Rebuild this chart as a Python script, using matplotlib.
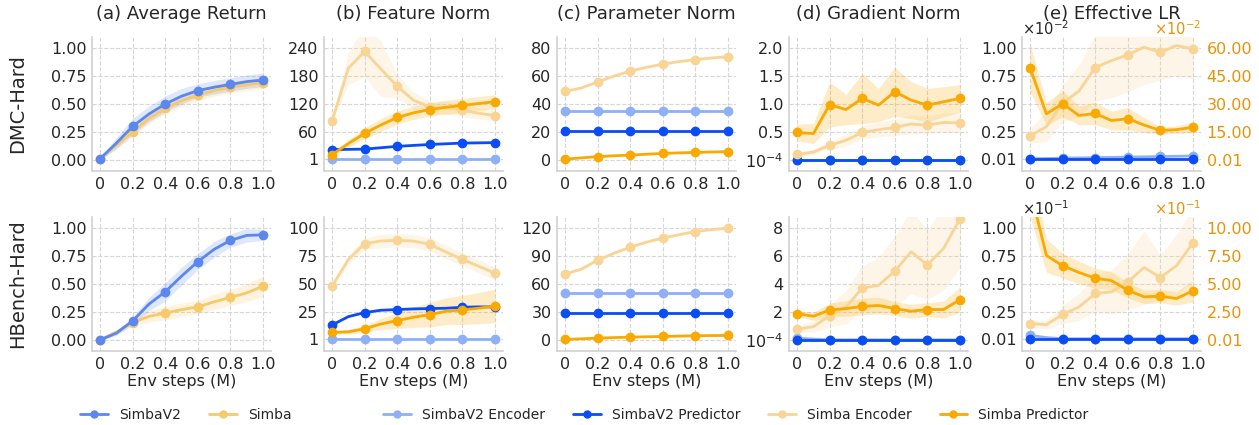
import matplotlib
matplotlib.use("Agg")
import matplotlib.pyplot as plt
import numpy as np
import seaborn as sns
from matplotlib.lines import Line2D

# x positions (env steps, millions)
steps = [0.0, 0.1, 0.2, 0.3, 0.4, 0.5, 0.6, 0.7, 0.8, 0.9, 1.0]

# ---- (a) average return ----
dmc_ret_v2 = [0.01, 0.15, 0.30, 0.41, 0.50, 0.57, 0.62, 0.65, 0.675, 0.70, 0.715]
dmc_ret_v2_sd = [0.01, 0.05, 0.07, 0.07, 0.07, 0.07, 0.06, 0.06, 0.06, 0.06, 0.06]
dmc_ret_simba = [0.01, 0.13, 0.25, 0.37, 0.46, 0.53, 0.58, 0.62, 0.65, 0.67, 0.69]
dmc_ret_simba_sd = [0.01, 0.03, 0.04, 0.05, 0.05, 0.05, 0.05, 0.05, 0.05, 0.05, 0.05]
hb_ret_v2 = [0.0, 0.06, 0.17, 0.32, 0.43, 0.57, 0.70, 0.81, 0.89, 0.935, 0.94]
hb_ret_v2_sd = [0.01, 0.02, 0.03, 0.06, 0.08, 0.08, 0.07, 0.07, 0.06, 0.06, 0.05]
hb_ret_simba = [0.0, 0.07, 0.155, 0.21, 0.24, 0.27, 0.295, 0.34, 0.38, 0.42, 0.48]
hb_ret_simba_sd = [0.01, 0.02, 0.03, 0.05, 0.06, 0.06, 0.06, 0.07, 0.07, 0.08, 0.09]

# ---- (b) feature norm ----
dmc_feat_v2_enc = [1, 1, 1, 1, 1, 1, 1, 1, 1, 1, 1]
dmc_feat_v2_pred = [22, 22.5, 23, 26, 29, 31, 33, 34.5, 36, 36.5, 37]
dmc_feat_s_enc = [84, 197, 233, 195, 158, 128, 114, 112, 107, 100, 95]
dmc_feat_s_enc_sd = [3, 35, 55, 60, 25, 18, 12, 14, 14, 12, 12]
dmc_feat_s_pred = [11, 35, 57, 75, 91, 101, 108, 113, 117, 121, 125]
dmc_feat_s_pred_sd = [4, 8, 12, 14, 14, 14, 14, 15, 15, 15, 15]
hb_feat_v2_enc = [1, 1, 1, 1, 1, 1, 1, 1, 1, 1, 1]
hb_feat_v2_pred = [13.3, 20.8, 24.4, 26.5, 27.1, 27.7, 28.0, 28.3, 29.2, 29.5, 29.5]
hb_feat_s_enc = [48.2, 72, 86.1, 88.5, 89.2, 88.5, 85.5, 78.6, 72, 66, 59.6]
hb_feat_s_enc_sd = [2, 4, 5, 6, 6, 6, 6, 6, 6, 6, 6]
hb_feat_s_pred = [6.6, 7.2, 9.9, 14.2, 17.2, 20.2, 22.6, 25.6, 26.8, 28.3, 30.4]
hb_feat_s_pred_sd = [1, 2, 3, 5, 7, 9, 11, 12, 13, 14, 15]

# ---- (c) parameter norm ----
dmc_par_v2_enc = [35, 35, 35, 35, 35, 35, 35, 35, 35, 35, 35]
dmc_par_v2_pred = [21, 21, 21, 21, 21, 21, 21, 21, 21, 21, 21]
dmc_par_s_enc = [49.0, 51.5, 55.8, 60, 63.6, 66.3, 68.6, 70.4, 71.8, 73, 73.9]
dmc_par_s_enc_sd = [0.5, 0.6, 0.7, 0.8, 0.8, 0.8, 0.8, 0.8, 0.8, 0.8, 0.8]
dmc_par_s_pred = [0.5, 1.4, 2.3, 2.9, 3.4, 4.0, 4.6, 5.0, 5.3, 5.6, 5.9]
hb_par_v2_enc = [50, 50, 50, 50, 50, 50, 50, 50, 50, 50, 50]
hb_par_v2_pred = [29, 29, 29, 29, 29, 29, 29, 29, 29, 29, 29]
hb_par_s_enc = [70.8, 76, 85.7, 93, 99.6, 105, 109.4, 113, 116.4, 118.5, 120]
hb_par_s_enc_sd = [0.8, 1, 1, 1.2, 1.2, 1.2, 1.2, 1.2, 1.2, 1.2, 1.2]
hb_par_s_pred = [0.4, 1.1, 1.8, 2.4, 2.9, 3.3, 3.6, 4.0, 4.4, 4.6, 4.7]

# ---- (d) gradient norm ----
dmc_grad_v2_enc = [0.0001, 0.0001, 0.0001, 0.0001, 0.0001, 0.0001, 0.0001, 0.0001, 0.0001, 0.0001, 0.0001]
dmc_grad_v2_pred = [0.0001, 0.0001, 0.0001, 0.0001, 0.0001, 0.0001, 0.0001, 0.0001, 0.0001, 0.0001, 0.0001]
dmc_grad_s_enc = [0.096, 0.14, 0.26, 0.35, 0.49, 0.54, 0.58, 0.64, 0.62, 0.67, 0.66]
dmc_grad_s_enc_sd = [0.03, 0.05, 0.08, 0.1, 0.12, 0.13, 0.15, 0.17, 0.15, 0.17, 0.18]
dmc_grad_s_pred = [0.49, 0.47, 0.99, 0.90, 1.10, 0.98, 1.22, 1.07, 0.98, 1.04, 1.10]
dmc_grad_s_pred_sd = [0.15, 0.18, 0.40, 0.27, 0.45, 0.30, 0.44, 0.33, 0.30, 0.27, 0.25]
hb_grad_v2_enc = [0.12, 0.05, 0.0001, 0.0001, 0.0001, 0.0001, 0.0001, 0.0001, 0.0001, 0.0001, 0.0001]
hb_grad_v2_pred = [0.0001, 0.0001, 0.0001, 0.0001, 0.0001, 0.0001, 0.0001, 0.0001, 0.0001, 0.0001, 0.0001]
hb_grad_s_enc = [0.77, 0.94, 1.73, 2.34, 3.71, 3.90, 4.92, 6.31, 5.37, 6.55, 8.65]
hb_grad_s_enc_sd = [0.2, 0.4, 0.8, 1.2, 1.6, 2.0, 2.5, 3.0, 2.5, 3.0, 3.5]
hb_grad_s_pred = [1.88, 1.69, 2.14, 2.24, 2.39, 2.46, 2.24, 2.05, 2.17, 2.17, 2.87]
hb_grad_s_pred_sd = [0.2, 0.3, 0.5, 0.55, 0.6, 0.6, 0.5, 0.5, 0.5, 0.6, 0.9]

# ---- (e) effective LR (left: SimbaV2, right: Simba) ----
dmc_lr_v2_enc = [0.01, 0.012, 0.015, 0.017, 0.02, 0.022, 0.025, 0.027, 0.03, 0.032, 0.035]
dmc_lr_v2_pred = [0.01, 0.01, 0.01, 0.01, 0.01, 0.01, 0.01, 0.01, 0.01, 0.01, 0.01]
dmc_lr_s_enc = [12.9, 17.8, 30.5, 36.9, 49.6, 53.3, 56.4, 60.5, 57.8, 61.4, 59.6]
dmc_lr_s_enc_sd = [4, 8, 10, 14, 18, 20, 20, 20, 15, 16, 16]
dmc_lr_s_pred = [49.3, 24.7, 30.2, 23.8, 24.9, 21.1, 22.1, 18.7, 15.8, 16.2, 17.5]
dmc_lr_s_pred_sd = [13, 6, 7, 5, 6, 5, 6, 4, 2, 2, 3]
hb_lr_v2_enc = [0.04, 0.02, 0.01, 0.01, 0.01, 0.01, 0.01, 0.01, 0.01, 0.01, 0.01]
hb_lr_v2_pred = [0.01, 0.01, 0.01, 0.01, 0.01, 0.01, 0.01, 0.01, 0.01, 0.01, 0.01]
hb_lr_s_enc = [1.45, 1.36, 2.27, 2.94, 4.15, 4.30, 5.18, 6.48, 5.58, 6.64, 8.67]
hb_lr_s_enc_sd = [0.3, 0.4, 0.8, 1.2, 1.6, 2.0, 2.5, 3.3, 2.0, 2.8, 3.2]
hb_lr_s_pred = [13.5, 7.55, 6.64, 6.03, 5.52, 5.30, 4.45, 3.85, 3.91, 3.70, 4.39]
hb_lr_s_pred_sd = [2.5, 1.5, 1.1, 1.0, 0.9, 0.8, 0.7, 0.6, 0.6, 0.6, 1.0]

titles = ["(a) Average Return", "(b) Feature Norm", "(c) Parameter Norm",
          "(d) Gradient Norm", "(e) Effective LR"]
row_names = ["DMC-Hard", "HBench-Hard"]

C_V2 = "#5B87EE"
C_SIMBA = "#F6C96A"
C_V2_ENC = "#8DB0F6"
C_V2_PRED = "#0B4DF5"
C_S_ENC = "#F8D595"
C_S_PRED = "#FAA900"
C_RIGHT = "#E8920A"

sns.set_style("whitegrid", {"grid.linestyle": "--", "axes.edgecolor": ".82",
                            "grid.color": ".84"})
plt.rcParams["font.family"] = ["DejaVu Sans"]
plt.rcParams["text.color"] = ".15"
plt.rcParams["axes.labelcolor"] = ".15"
plt.rcParams["xtick.color"] = ".15"
plt.rcParams["ytick.color"] = ".15"
plt.rcParams["axes.titley"] = 1.0  # fixed title position (no auto shifting)


def curve(ax, y, color, sd=None, alpha=0.22):
    if sd is not None:
        lo = np.array(y) - np.array(sd)
        hi = np.array(y) + np.array(sd)
        ax.fill_between(steps, lo, hi, color=color, alpha=alpha, lw=0)
    ax.plot(steps, y, color=color, lw=2, marker="o", ms=6, markevery=2)


def style(ax, top, ticks, labels, right=False):
    ax.set_ylim(-0.1 * top, 1.1 * top)
    ax.set_yticks(ticks)
    ax.set_yticklabels(labels)
    ax.set_xlim(-0.05, 1.05)
    ax.set_xticks([0, 0.2, 0.4, 0.6, 0.8, 1.0])
    ax.set_xticklabels(["0", "0.2", "0.4", "0.6", "0.8", "1.0"])
    ax.tick_params(labelsize=11.5, length=0, pad=4)
    for s in ["top", "right"]:
        ax.spines[s].set_visible(False)
    for s in ["left", "bottom"]:
        ax.spines[s].set_linewidth(1.2)
    if right:
        ax.spines["left"].set_visible(False)
        ax.spines["bottom"].set_visible(False)


fig = plt.figure(figsize=(12.59, 4.25), dpi=100)
lefts = [92, 324, 557, 789, 1022]
bottoms = [1 - 171 / 425, 1 - 351 / 425]
W, H = 179 / 1259, 134 / 425

ret_ticks = [0, 0.25, 0.5, 0.75, 1.0]
ret_labels = ["0.00", "0.25", "0.50", "0.75", "1.00"]
lr_ticks = [0.01, 0.25, 0.5, 0.75, 1.0]
lr_labels = ["0.01", "0.25", "0.50", "0.75", "1.00"]

rows = [
    dict(ret=(dmc_ret_v2, dmc_ret_v2_sd, dmc_ret_simba, dmc_ret_simba_sd),
         feat=(dmc_feat_v2_enc, dmc_feat_v2_pred, dmc_feat_s_enc, dmc_feat_s_enc_sd,
               dmc_feat_s_pred, dmc_feat_s_pred_sd),
         feat_axis=(240, [1, 60, 120, 180, 240], ["1", "60", "120", "180", "240"]),
         par=(dmc_par_v2_enc, dmc_par_v2_pred, dmc_par_s_enc, dmc_par_s_enc_sd,
              dmc_par_s_pred, None),
         par_axis=(80, [0, 20, 40, 60, 80], ["0", "20", "40", "60", "80"]),
         grad=(dmc_grad_v2_enc, dmc_grad_v2_pred, dmc_grad_s_enc, dmc_grad_s_enc_sd,
               dmc_grad_s_pred, dmc_grad_s_pred_sd),
         grad_axis=(2.0, [0.0001, 0.5, 1.0, 1.5, 2.0], [r"$10^{-4}$", "0.5", "1.0", "1.5", "2.0"]),
         lr=(dmc_lr_v2_enc, dmc_lr_v2_pred, dmc_lr_s_enc, dmc_lr_s_enc_sd,
             dmc_lr_s_pred, dmc_lr_s_pred_sd),
         lr_right=(60, [0.01, 15, 30, 45, 60], ["0.01", "15.00", "30.00", "45.00", "60.00"]),
         mult=r"$\times10^{-2}$"),
    dict(ret=(hb_ret_v2, hb_ret_v2_sd, hb_ret_simba, hb_ret_simba_sd),
         feat=(hb_feat_v2_enc, hb_feat_v2_pred, hb_feat_s_enc, hb_feat_s_enc_sd,
               hb_feat_s_pred, hb_feat_s_pred_sd),
         feat_axis=(100, [1, 25, 50, 75, 100], ["1", "25", "50", "75", "100"]),
         par=(hb_par_v2_enc, hb_par_v2_pred, hb_par_s_enc, hb_par_s_enc_sd,
              hb_par_s_pred, None),
         par_axis=(120, [0, 30, 60, 90, 120], ["0", "30", "60", "90", "120"]),
         grad=(hb_grad_v2_enc, hb_grad_v2_pred, hb_grad_s_enc, hb_grad_s_enc_sd,
               hb_grad_s_pred, hb_grad_s_pred_sd),
         grad_axis=(8, [0.0001, 2, 4, 6, 8], [r"$10^{-4}$", "2", "4", "6", "8"]),
         lr=(hb_lr_v2_enc, hb_lr_v2_pred, hb_lr_s_enc, hb_lr_s_enc_sd,
             hb_lr_s_pred, hb_lr_s_pred_sd),
         lr_right=(10, [0.01, 2.5, 5, 7.5, 10], ["0.01", "2.50", "5.00", "7.50", "10.00"]),
         mult=r"$\times10^{-1}$"),
]


def four(ax, d):
    v2e, v2p, se, se_sd, sp, sp_sd = d
    curve(ax, v2e, C_V2_ENC)
    curve(ax, v2p, C_V2_PRED)
    curve(ax, se, C_S_ENC, se_sd)
    curve(ax, sp, C_S_PRED, sp_sd)


for r, d in enumerate(rows):
    axs = [fig.add_axes([lefts[c] / 1259, bottoms[r], W, H]) for c in range(5)]

    # (a)
    v2, v2sd, sb, sbsd = d["ret"]
    curve(axs[0], sb, C_SIMBA, sbsd)
    curve(axs[0], v2, C_V2, v2sd, alpha=0.2)
    style(axs[0], 1.0, ret_ticks, ret_labels)

    four(axs[1], d["feat"])
    style(axs[1], *d["feat_axis"])
    four(axs[2], d["par"])
    style(axs[2], *d["par_axis"])
    four(axs[3], d["grad"])
    style(axs[3], *d["grad_axis"])

    # (e) with twin axis
    v2e, v2p, se, se_sd, sp, sp_sd = d["lr"]
    ax = axs[4]
    curve(ax, v2e, C_V2_ENC)
    curve(ax, v2p, C_V2_PRED)
    style(ax, 1.0, lr_ticks, lr_labels)
    ax2 = ax.twinx()
    curve(ax2, se, C_S_ENC, se_sd)
    curve(ax2, sp, C_S_PRED, sp_sd)
    top, tks, lbs = d["lr_right"]
    style(ax2, top, tks, lbs, right=True)
    ax2.grid(False)
    ax2.tick_params(axis="y", colors=C_RIGHT)
    ax.text(0.0, 1.012, d["mult"], transform=ax.transAxes, ha="left", va="baseline",
            fontsize=10.5)
    ax2.text(1.0, 1.012, d["mult"], transform=ax2.transAxes, ha="right", va="baseline",
             fontsize=10.5, color=C_RIGHT)

    for c in range(5):
        if r == 0:
            axs[c].set_title(titles[c], fontsize=13, pad=13)
        else:
            axs[c].set_xlabel("Env steps (M)", fontsize=11.5, labelpad=2)

    yc = bottoms[r] + H / 2
    fig.text(18 / 1259, yc, row_names[r], rotation=90, ha="center", va="center", fontsize=14)


def handle(color):
    return Line2D([], [], color=color, lw=2, marker="o", ms=5)


fig.legend([handle(C_V2), handle(C_SIMBA)], ["SimbaV2", "Simba"],
           loc="center", bbox_to_anchor=(186 / 1259, 0.024), ncol=2, frameon=False,
           fontsize=10)
fig.legend([handle(C_V2_ENC), handle(C_V2_PRED), handle(C_S_ENC), handle(C_S_PRED)],
           ["SimbaV2 Encoder", "SimbaV2 Predictor", "Simba Encoder", "Simba Predictor"],
           loc="center", bbox_to_anchor=(736 / 1259, 0.024), ncol=4, frameon=False,
           fontsize=10)

fig.savefig("out.png", dpi=100)
